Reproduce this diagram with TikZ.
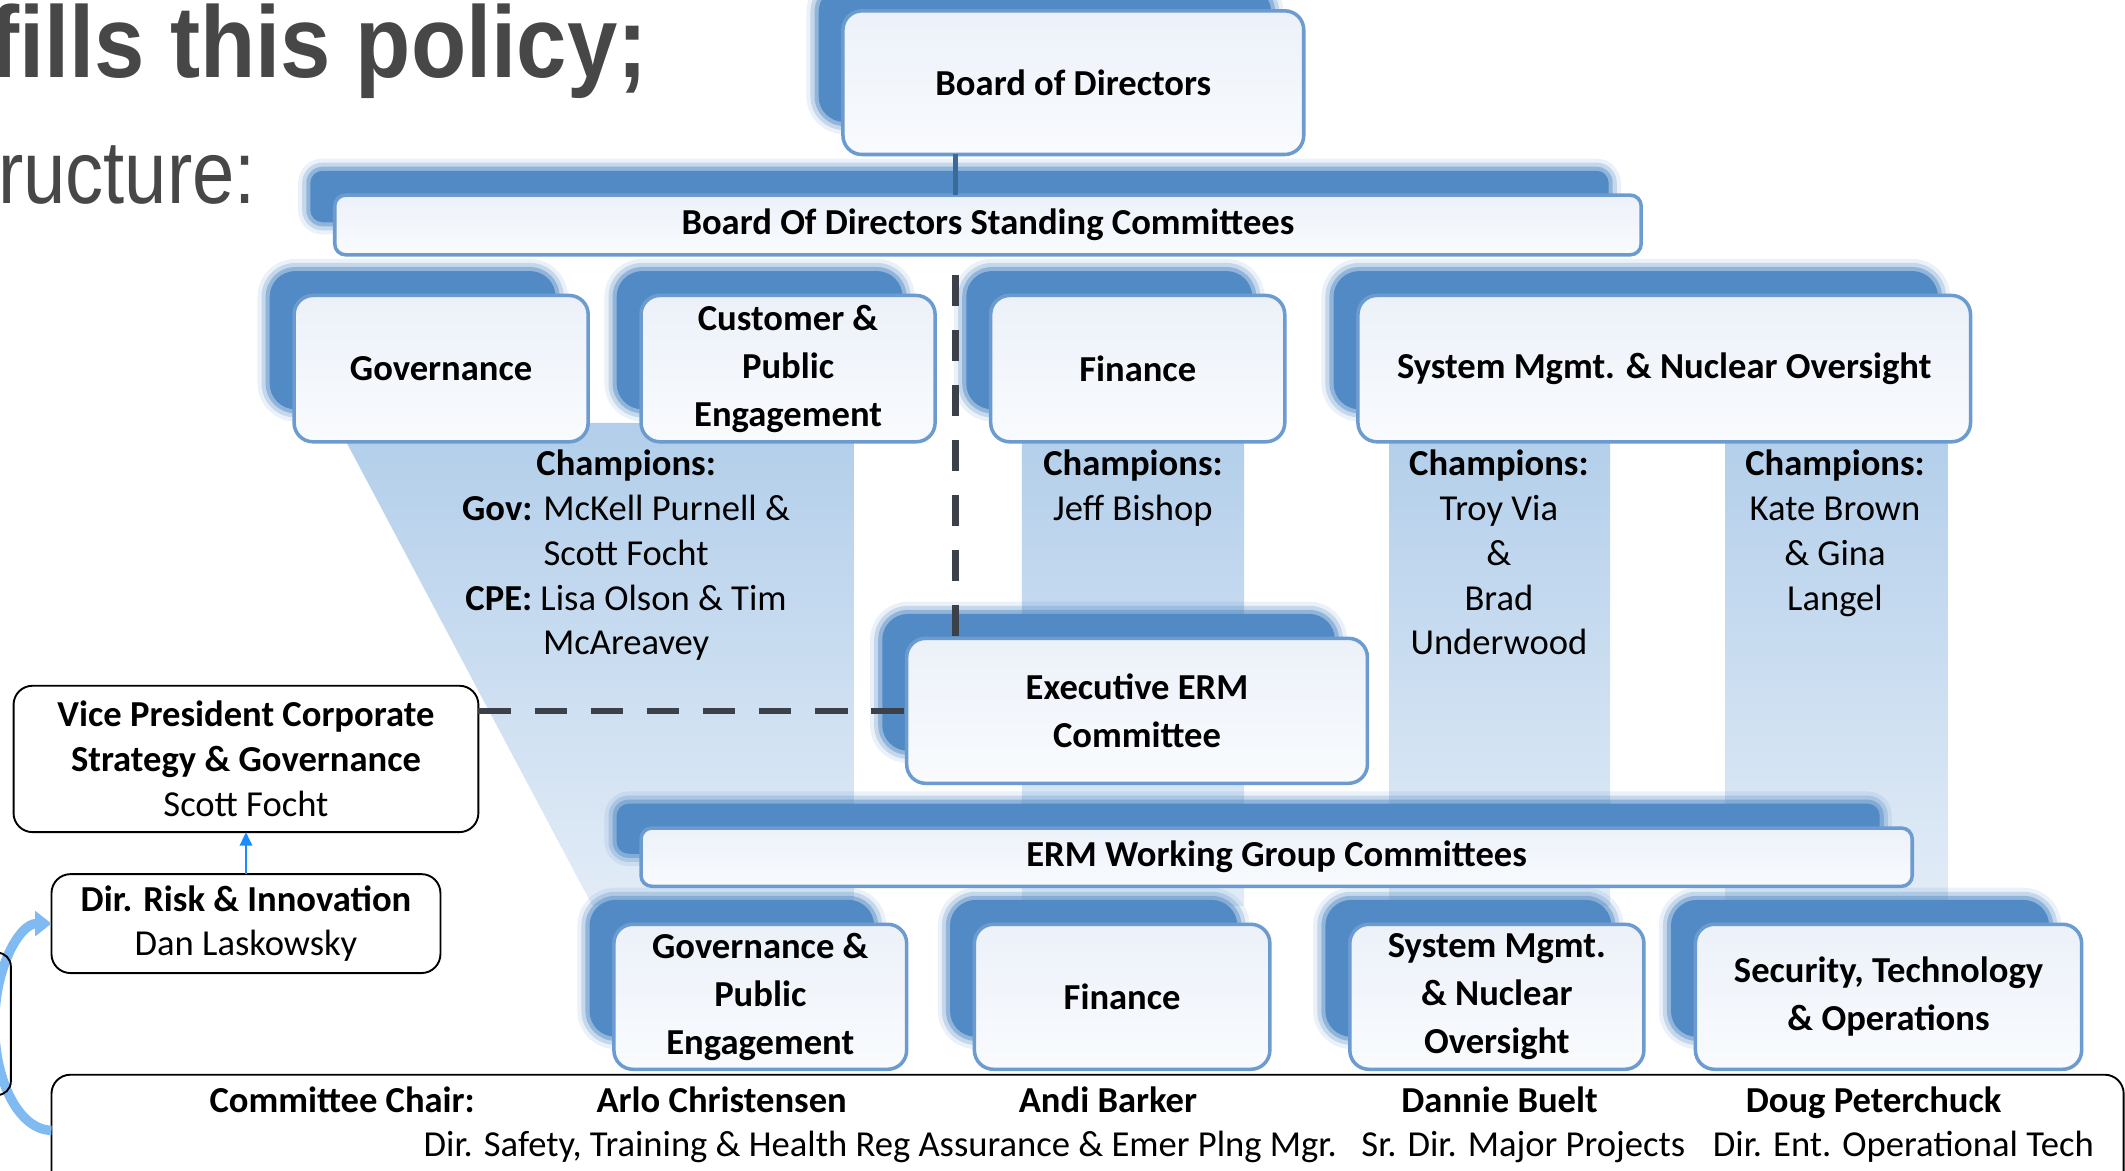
\documentclass[tikz,border=0pt]{standalone}
\usepackage{fontspec}
\setmainfont{Carlito}
\newfontfamily\titlefont[FakeStretch=0.89]{Liberation Sans}
\newfontfamily\titlefontb[FakeStretch=0.85]{Liberation Sans}
\usetikzlibrary{arrows.meta,calc}
\pgfdeclarelayer{bands}
\pgfdeclarelayer{shadows}
\pgfsetlayers{bands,shadows,main}

\definecolor{boxborder}{RGB}{108,155,207}
\definecolor{boxtop}{RGB}{236,241,249}
\definecolor{boxbot}{RGB}{249,251,254}
\definecolor{shadowblue}{RGB}{82,138,197}
\definecolor{bandtop}{RGB}{178,206,234}
\definecolor{bandbot}{RGB}{226,236,247}
\definecolor{dashgray}{RGB}{60,64,72}
\definecolor{linkblue}{RGB}{58,106,154}
\definecolor{arrowblue}{RGB}{26,140,255}
\definecolor{curveblue}{RGB}{128,186,242}
\definecolor{titlegray}{RGB}{71,71,71}

\tikzset{
  bluebox/.style={draw=boxborder, line width=2.6pt, rounded corners=14pt,
    top color=boxtop, bottom color=boxbot, align=center, inner sep=0pt, outer sep=0pt,
    font=\fontsize{27}{35.5}\selectfont\bfseries},
  bluebar/.style={bluebox, rounded corners=8pt},
  blackbox/.style={draw=black, line width=1.4pt, rounded corners=14pt, fill=white,
    align=center, inner sep=0pt, outer sep=0pt, font=\fontsize{27}{33}\selectfont},
  champ/.style={align=center, inner sep=0pt, anchor=north, font=\fontsize{27}{33}\selectfont},
  chairtxt/.style={inner sep=0pt, anchor=base, font=\fontsize{27}{33}\selectfont},
  dashconn/.style={draw=dashgray, line width=4.8pt},
  titletxt/.style={inner sep=0pt, anchor=base east, text=titlegray},
}

\newcommand\boxshadow[2]{%
  \begin{pgfonlayer}{shadows}
    \foreach \sa/\sb/\op/\rad in {27/15/0.12/6, 24/18/0.25/3, 21/21/0.45/0, 18/24/1/-3}{%
      \pgfmathsetmacro\rr{#2+\rad}
      \fill[shadowblue, opacity=\op, rounded corners=\rr pt]
        ($(#1.north west)+(-\sa,-\sa)$) rectangle ($(#1.south east)+(-\sb,-\sb)$);
    }
  \end{pgfonlayer}}

\begin{document}
\begin{tikzpicture}[x=1pt,y=-1pt]
\useasboundingbox (0,0) rectangle (1568,864);

% title fragments
\node[titletxt, font=\titlefont\bfseries\fontsize{75}{75}\selectfont] (title1) at (478,57) {fills this policy;};
\node[titletxt, font=\titlefontb\fontsize{66}{66}\selectfont] (title2) at (189,150) {ructure:};

% blue committee boxes
\node[bluebox, minimum width=340pt, minimum height=106pt] (bod) at (792,61) {Board of Directors};
\node[bluebar, minimum width=964pt, minimum height=44pt] (stand) at (729,166) {Board Of Directors Standing Committees};
\node[bluebox, minimum width=217pt, minimum height=108pt] (gov) at (325.5,272) {Governance};
\node[bluebox, minimum width=217pt, minimum height=108pt] (cpe) at (581.5,272) {Customer \&\\Public\\Engagement};
\node[bluebox, minimum width=217pt, minimum height=108pt] (fin) at (839.5,272) {Finance};
\node[bluebox, minimum width=452pt, minimum height=108pt] (sys) at (1228,272) {System Mgmt. \& Nuclear Oversight};
\node[bluebox, minimum width=340pt, minimum height=107pt] (exec) at (839,524.5) {Executive ERM\\Committee};
\node[bluebar, minimum width=938pt, minimum height=43pt] (ermwg) at (942,632.5) {ERM Working Group Committees};
\node[bluebox, minimum width=216pt, minimum height=107pt] (lgov) at (561,735.5) {Governance \&\\Public\\Engagement};
\node[bluebox, minimum width=218pt, minimum height=107pt] (lfin) at (828,735.5) {Finance};
\node[bluebox, minimum width=217pt, minimum height=107pt] (lsys) at (1104.5,735.5) {System Mgmt.\\\& Nuclear\\Oversight};
\node[bluebox, minimum width=285pt, minimum height=107pt] (lsec) at (1393.5,735.5) {Security, Technology\\\& Operations};

% shadows
\boxshadow{bod}{22}
\boxshadow{stand}{12}
\boxshadow{gov}{22}
\boxshadow{cpe}{22}
\boxshadow{fin}{22}
\boxshadow{sys}{22}
\boxshadow{exec}{22}
\boxshadow{ermwg}{12}
\boxshadow{lgov}{22}
\boxshadow{lfin}{22}
\boxshadow{lsys}{22}
\boxshadow{lsec}{22}

% champion bands
\begin{pgfonlayer}{bands}
  \shade[top color=bandtop, bottom color=bandbot] (248,312) -- (630,312) -- (630,668) -- (437,668) -- cycle;
  \shade[top color=bandtop, bottom color=bandbot] (754,312) rectangle (918,668);
  \shade[top color=bandtop, bottom color=bandbot] (1025,312) rectangle (1188,668);
  \shade[top color=bandtop, bottom color=bandbot] (1273,312) rectangle (1437,668);
\end{pgfonlayer}

% champion texts
\node[champ] (chgov) at (462,327) {\rule{0pt}{24pt}\textbf{Champions:}\\\textbf{Gov:} McKell Purnell \&\\Scott Focht\\\textbf{CPE:} Lisa Olson \& Tim\\McAreavey};
\node[champ] (chfin) at (836,327) {\rule{0pt}{24pt}\textbf{Champions:}\\Jeff Bishop};
\node[champ] (chsys) at (1106,327) {\rule{0pt}{24pt}\textbf{Champions:}\\Troy Via\\\&\\Brad\\Underwood};
\node[champ] (chsys2) at (1354,327) {\rule{0pt}{24pt}\textbf{Champions:}\\Kate Brown\\\& Gina\\Langel};

% black boxes
\node[blackbox, minimum width=343pt, minimum height=108pt] (vp) at (181.5,560) {\textbf{Vice President Corporate}\\\textbf{Strategy \& Governance}\\Scott Focht};
\node[blackbox, minimum width=287pt, minimum height=73pt] (risk) at (181.5,681.5) {\textbf{Dir. Risk \& Innovation}\\Dan Laskowsky};
\node[blackbox, minimum width=1529pt, minimum height=107pt] (chair) at (802.5,846.5) {};

% chair texts
\node[chairtxt] (chairlbl) at (252.5,821) {\textbf{Committee Chair:}};
\node[chairtxt] (c1) at (532.5,821) {\textbf{Arlo Christensen}};
\node[chairtxt] (c2) at (817.5,821) {\textbf{Andi Barker}};
\node[chairtxt] (c3) at (1106.5,821) {\textbf{Dannie Buelt}};
\node[chairtxt] (c4) at (1382.5,821) {\textbf{Doug Peterchuck}};
\node[chairtxt] (t1) at (649.5,853) {Dir. Safety, Training \& Health Reg Assurance \& Emer Plng Mgr.};
\node[chairtxt] (t2) at (1124,853) {Sr. Dir. Major Projects};
\node[chairtxt] (t3) at (1404.5,853) {Dir. Ent. Operational Tech};

% connectors
\coordinate (spine) at (705,0);
\draw[linkblue, line width=4pt] (bod.south -| spine) -- (stand.north -| spine);
\draw[dashconn, dash pattern=on 23pt off 17.6pt, dash phase=25.6pt] (stand.south -| spine) -- (exec.north -| spine);
\draw[dashconn, dash pattern=on 24pt off 17.4pt] (vp.east |- exec.west) -- (exec.west);
\draw[arrowblue, line width=2pt, -{Triangle[length=10pt,width=9pt]}] (risk.north) -- (vp.south);

% curved arrow from chair bar to Dir. Risk box
\coordinate (ctail) at ($(chair.north west)+(0,41)$);
\draw[curveblue, line width=7pt, -{Triangle[length=12pt,width=18pt]}]
  (ctail) .. controls (14.8,834) and (-4,799) .. (-4,756)
  .. controls (-4,713) and (14.8,681.5) .. (risk.west);

% partial box at the left edge
\node[draw=black, line width=1.4pt, rounded corners=10pt, inner sep=0pt, outer sep=0pt,
  minimum width=60pt, minimum height=105pt] (side) at (-22,755.5) {};
\end{tikzpicture}
\end{document}
